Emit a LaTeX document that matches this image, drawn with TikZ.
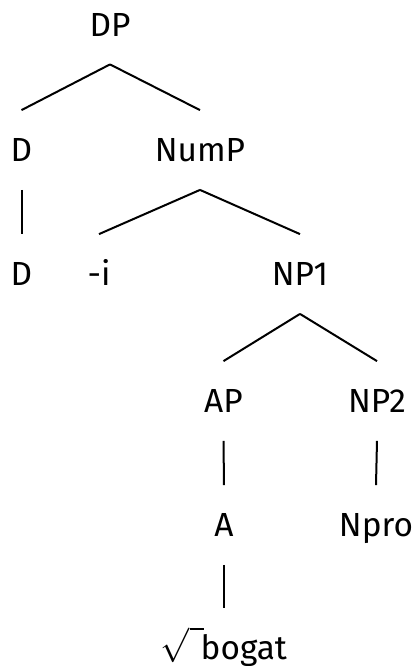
\documentclass[tikz,border=0pt]{standalone}
\usepackage{fontspec}
\setmainfont{Fira Sans}
\usepackage{amsmath}

\begin{document}
\begin{tikzpicture}[x=0.5pt, y=-0.5pt,
		cat/.style={inner xsep=0pt, inner ysep=14pt, text height=11.5pt, text depth=0pt,
			font=\fontsize{16.7}{20}\selectfont},
		branch/.style={line width=1pt}]
			\useasboundingbox (0,0) rectangle (413,666);
			\node[cat] (dp) at (110,24.5) {DP};
			\node[cat] (d) at (21.5,150) {D};
			\node[cat] (nump) at (200,150) {NumP};
			\node[cat] (dhead) at (21.5,274) {D};
			\node[cat] (affix) at (99,274) {-i};
			\node[cat] (np1) at (300,274) {NP1};
			\node[cat] (ap) at (223.5,401) {AP};
			\node[cat] (np2) at (377,401) {NP2};
			\node[cat] (a) at (224,525) {A};
			\node[cat] (npro) at (376,525) {Npro};
			\node[cat] (root) at (224,647.5) {$\sqrt{\vphantom{b}\hspace{7pt}}$\hspace{-1.5pt}bogat};
			
			\path [branch] (dp.south) edge (d.north);
			\path [branch] (dp.south) edge (nump.north);
			\path [branch] (d.south) edge (dhead.north);
			\path [branch] (nump.south) edge (affix.north);
			\path [branch] (nump.south) edge (np1.north);
			\path [branch] (np1.south) edge (ap.north);
			\path [branch] (np1.south) edge (np2.north);
			\path [branch] (ap.south) edge (a.north);
			\path [branch] (np2.south) edge (npro.north);
			\path [branch] (a.south) edge (root.north);
		\end{tikzpicture}
\end{document}
